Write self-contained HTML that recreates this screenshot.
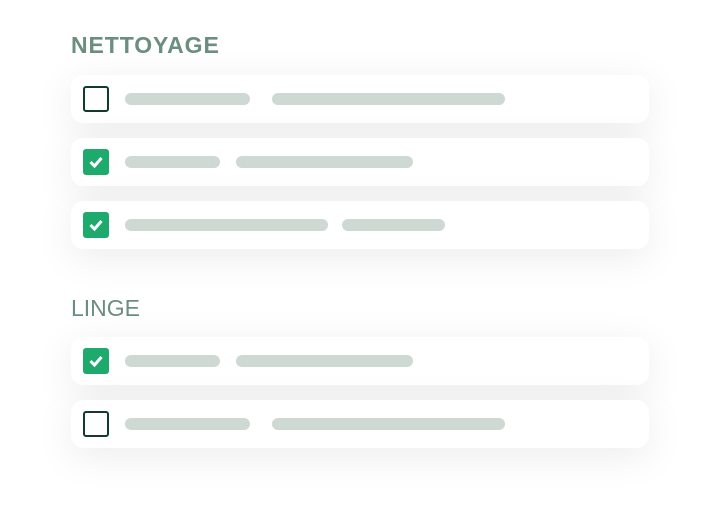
<!DOCTYPE html>
<html><head><style>
body{margin:0;width:720px;height:511px;background:#fff;position:relative;overflow:hidden;font-family:"Liberation Sans",sans-serif}
.t{position:absolute;left:71px;color:#6b8f7e}
.row{position:absolute;left:71px;width:578px;height:48px;background:#fff;border-radius:12px;box-shadow:0 8px 40px rgba(0,0,0,0.08)}
.cb{position:absolute;left:12px;top:11px;width:26px;height:26px;box-sizing:border-box;border-radius:3px}
.off{border:2.5px solid #0f3d2a}
.on{background:#1daa6c}
.on svg{position:absolute;left:5px;top:6px}
.bar{position:absolute;top:18px;height:12px;border-radius:6px;background:#cfd9d3}
</style></head><body>
<div class="t" style="top:32px;font-size:23px;font-weight:bold;letter-spacing:0.9px">NETTOYAGE</div>
<div class="row" style="top:75px"><div class="cb off"></div><div class="bar" style="left:54px;width:125px"></div><div class="bar" style="left:201px;width:233px"></div></div>
<div class="row" style="top:138px"><div class="cb on"><svg width="16" height="14"><path d="M2.5 7 L6.5 11 L13.5 3" stroke="#fff" stroke-width="3" fill="none"/></svg></div><div class="bar" style="left:54px;width:95px"></div><div class="bar" style="left:165px;width:177px"></div></div>
<div class="row" style="top:201px"><div class="cb on"><svg width="16" height="14"><path d="M2.5 7 L6.5 11 L13.5 3" stroke="#fff" stroke-width="3" fill="none"/></svg></div><div class="bar" style="left:54px;width:203px"></div><div class="bar" style="left:271px;width:103px"></div></div>
<div class="t" style="top:295px;font-size:23px;font-weight:normal">LINGE</div>
<div class="row" style="top:337px"><div class="cb on"><svg width="16" height="14"><path d="M2.5 7 L6.5 11 L13.5 3" stroke="#fff" stroke-width="3" fill="none"/></svg></div><div class="bar" style="left:54px;width:95px"></div><div class="bar" style="left:165px;width:177px"></div></div>
<div class="row" style="top:400px"><div class="cb off"></div><div class="bar" style="left:54px;width:125px"></div><div class="bar" style="left:201px;width:233px"></div></div>
</body></html>
